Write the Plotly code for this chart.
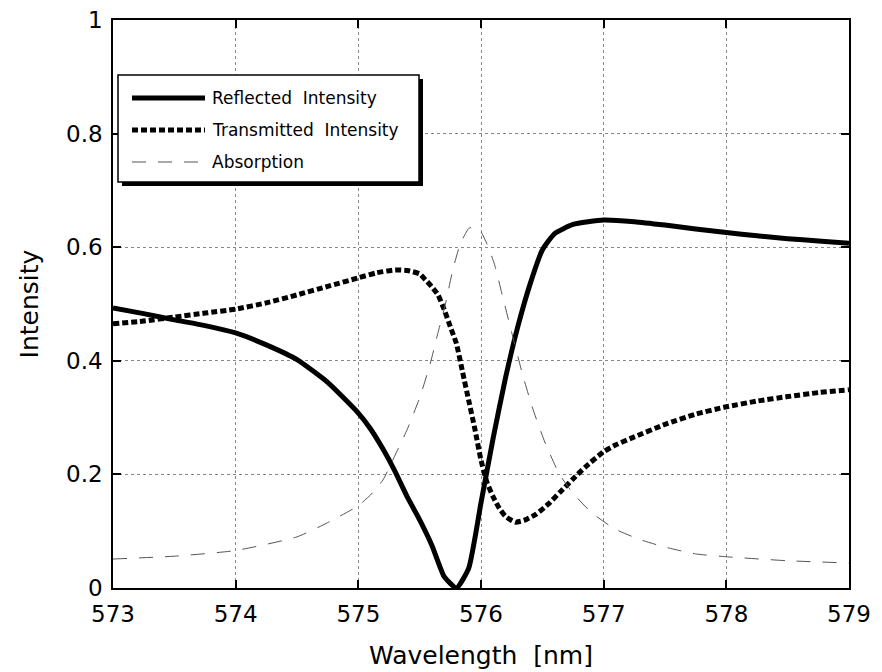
import plotly.graph_objects as go

# Wavelength grids and intensities for each curve
refl_wl = [573.0, 573.25, 573.5, 573.75, 574.0, 574.25, 574.5, 574.75, 575.0, 575.1,
           575.2, 575.3, 575.4, 575.5, 575.6, 575.7, 575.8, 575.9, 576.0, 576.1,
           576.2, 576.3, 576.4, 576.5, 576.6, 576.75, 577.0, 577.25, 577.5, 577.75,
           578.0, 578.25, 578.5, 578.75, 579.0]
refl_int = [0.493, 0.483, 0.472, 0.462, 0.449, 0.428, 0.402, 0.362, 0.308, 0.280,
            0.245, 0.205, 0.160, 0.120, 0.075, 0.020, 0.000, 0.035, 0.150, 0.265,
            0.370, 0.460, 0.535, 0.595, 0.624, 0.640, 0.648, 0.645, 0.639, 0.632,
            0.626, 0.620, 0.615, 0.611, 0.607]

trans_wl = [573.0, 573.25, 573.5, 573.75, 574.0, 574.25, 574.5, 574.75, 575.0, 575.15,
            575.3, 575.4, 575.5, 575.55, 575.6, 575.65, 575.7, 575.75, 575.8, 575.85,
            575.9, 575.95, 576.0, 576.05, 576.1, 576.15, 576.2, 576.28, 576.35, 576.45,
            576.55, 576.65, 576.75, 576.85, 577.0, 577.1, 577.25, 577.5, 577.75, 578.0,
            578.25, 578.5, 578.75, 579.0]
trans_int = [0.465, 0.470, 0.477, 0.484, 0.491, 0.502, 0.516, 0.531, 0.546, 0.555,
             0.560, 0.559, 0.553, 0.542, 0.530, 0.516, 0.490, 0.460, 0.430, 0.380,
             0.330, 0.280, 0.225, 0.185, 0.160, 0.140, 0.126, 0.116, 0.119, 0.130,
             0.148, 0.170, 0.192, 0.213, 0.240, 0.252, 0.266, 0.288, 0.306, 0.319,
             0.329, 0.337, 0.344, 0.349]

abs_wl = [573.0, 573.5, 574.0, 574.5, 574.75, 575.0, 575.1, 575.2, 575.3, 575.4,
          575.5, 575.58, 575.65, 575.71, 575.77, 575.83, 575.9, 575.95, 576.0, 576.05,
          576.11, 576.18, 576.25, 576.34, 576.42, 576.52, 576.64, 576.75, 576.9, 577.09,
          577.3, 577.5, 577.75, 578.0, 578.5, 579.0]
abs_int = [0.051, 0.056, 0.066, 0.090, 0.115, 0.145, 0.164, 0.190, 0.234, 0.280,
           0.335, 0.390, 0.450, 0.500, 0.560, 0.605, 0.633, 0.636, 0.627, 0.605,
           0.570, 0.510, 0.450, 0.375, 0.317, 0.257, 0.200, 0.167, 0.133, 0.104,
           0.085, 0.072, 0.060, 0.055, 0.048, 0.044]

x_ticks = [573, 574, 575, 576, 577, 578, 579]
y_ticks = [0, 0.2, 0.4, 0.6, 0.8, 1]
y_tick_text = ["0", "0.2", "0.4", "0.6", "0.8", "1"]

series_names = ["Reflected  Intensity", "Transmitted  Intensity", "Absorption"]

FONT = "DejaVu Sans, Verdana, sans-serif"

solid = dict(color="black", width=5)
dotted = dict(color="black", width=5, dash="6px,3px")
dashed = dict(color="#555555", width=1, dash="14px,12px")
styles = [solid, dotted, dashed]

fig = go.Figure()
for wl, val, name, st in [(refl_wl, refl_int, series_names[0], solid),
                          (trans_wl, trans_int, series_names[1], dotted),
                          (abs_wl, abs_int, series_names[2], dashed)]:
    fig.add_trace(go.Scatter(x=wl, y=val, mode="lines", name=name,
                             line=dict(st, shape="spline", smoothing=0.5),
                             showlegend=False))

axis_common = dict(
    showline=True, linecolor="black", linewidth=1.5, mirror="ticks",
    ticks="inside", ticklen=8, tickwidth=1.5, tickcolor="black",
    showgrid=True, gridcolor="#888888", gridwidth=1, griddash="dot",
    zeroline=False, automargin=False,
    tickfont=dict(family=FONT, size=23, color="black"),
)

fig.update_xaxes(range=[573, 579], tickvals=x_ticks, ticklabelstandoff=5,
                 title=dict(text="Wavelength  [nm]", standoff=20,
                            font=dict(family=FONT, size=25, color="black")),
                 **axis_common)
fig.update_yaxes(range=[0, 1], tickvals=y_ticks, ticktext=y_tick_text,
                 ticklabelstandoff=4,
                 title=dict(text="Intensity", standoff=20,
                            font=dict(family=FONT, size=25, color="black")),
                 **axis_common)

# Hand-built legend box with drop shadow
L, R, T, B = 118, 419, 75, 182
W, H = 736.0, 568.0
def px(x):
    return (x - 113) / W
def py(y):
    return (588 - y) / H

shapes = [
    dict(type="rect", xref="paper", yref="paper", x0=px(L + 4), x1=px(R + 4),
         y0=py(B + 4), y1=py(T + 4), fillcolor="black", line=dict(width=0),
         layer="above"),
    dict(type="rect", xref="paper", yref="paper", x0=px(L), x1=px(R),
         y0=py(B), y1=py(T), fillcolor="white",
         line=dict(color="black", width=1.5), layer="above"),
]
annotations = []
rows = [98, 130, 162]
for yrow, name, st in zip(rows, series_names, styles):
    shapes.append(dict(type="line", xref="paper", yref="paper",
                       x0=px(132), x1=px(205), y0=py(yrow), y1=py(yrow),
                       line=st, layer="above"))
    annotations.append(dict(xref="paper", yref="paper", x=px(210), y=py(yrow),
                            text=name, showarrow=False, xanchor="left",
                            yanchor="middle",
                            font=dict(family=FONT, size=17, color="black")))

fig.update_layout(
    width=882, height=672,
    margin=dict(l=113, r=33, t=20, b=84),
    paper_bgcolor="white", plot_bgcolor="white",
    shapes=shapes, annotations=annotations,
)

fig.write_html("out.html")
